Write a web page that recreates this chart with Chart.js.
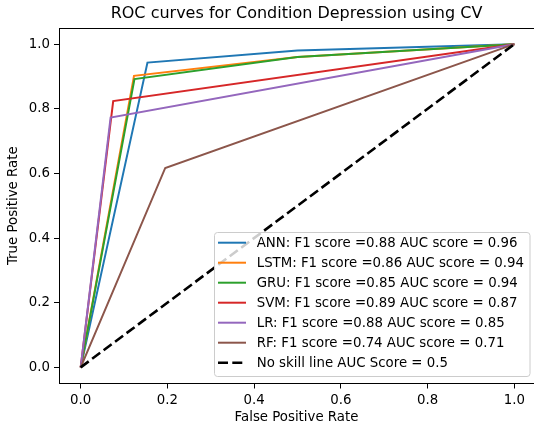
<!DOCTYPE html>
<html lang="en">
<head>
    <meta charset="UTF-8">
    <title>ROC curves for Condition Depression using CV</title>
    <script src="https://cdn.jsdelivr.net/npm/chart.js"></script>
    <style>
        html, body {
            margin: 0;
            padding: 0;
            background: #fff;
        }
        #wrap {
            width: 534px;
            height: 430px;
        }
    </style>
</head>
<body>
    <div id="wrap"><canvas id="roc"></canvas></div>

    <script>
        // chart text
        const chartTitle = 'ROC curves for Condition Depression using CV';
        const xTitle = 'False Positive Rate';
        const yTitle = 'True Positive Rate';

        // ticks
        const xTicks = [0, 0.2, 0.4, 0.6, 0.8, 1.0];
        const xTickLabels = ['0.0', '0.2', '0.4', '0.6', '0.8', '1.0'];
        const yTicks = [0, 0.2, 0.4, 0.6, 0.8, 1.0];
        const yTickLabels = ['0.0', '0.2', '0.4', '0.6', '0.8', '1.0'];

        // models and scores
        const modelNames = ['ANN', 'LSTM', 'GRU', 'SVM', 'LR', 'RF'];
        const f1Scores = [0.88, 0.86, 0.85, 0.89, 0.88, 0.74];
        const aucScores = [0.96, 0.94, 0.94, 0.87, 0.85, 0.71];
        const colors = ['#1f77b4', '#ff7f0e', '#2ca02c', '#d62728', '#9467bd', '#8c564b'];

        // curve points
        const annFpr = [0, 0.154, 0.5, 1];
        const annTpr = [0, 0.943, 0.98, 1];
        const lstmFpr = [0, 0.123, 0.5, 1];
        const lstmTpr = [0, 0.902, 0.96, 1];
        const gruFpr = [0, 0.124, 0.5, 1];
        const gruTpr = [0, 0.892, 0.96, 1];
        const svmFpr = [0, 0.075, 1];
        const svmTpr = [0, 0.824, 1];
        const lrFpr = [0, 0.069, 1];
        const lrTpr = [0, 0.773, 1];
        const rfFpr = [0, 0.195, 1];
        const rfTpr = [0, 0.617, 1];
        const noSkillFpr = [0, 1];
        const noSkillTpr = [0, 1];
        const noSkillAuc = 0.5;

        const fprs = [annFpr, lstmFpr, gruFpr, svmFpr, lrFpr, rfFpr];
        const tprs = [annTpr, lstmTpr, gruTpr, svmTpr, lrTpr, rfTpr];

        const FONT = 'DejaVu Sans';

        function toPoints(xs, ys) {
            return xs.map((x, i) => ({ x: x, y: ys[i] }));
        }

        const datasets = modelNames.map((name, i) => ({
            label: name + ': F1 score =' + f1Scores[i].toFixed(2) + ' AUC score = ' + aucScores[i].toFixed(2),
            data: toPoints(fprs[i], tprs[i]),
            borderColor: colors[i],
            backgroundColor: colors[i],
            borderWidth: 2,
            borderDash: [],
            order: 10 - i
        }));
        datasets.push({
            label: 'No skill line AUC Score = ' + noSkillAuc,
            data: toPoints(noSkillFpr, noSkillTpr),
            borderColor: '#000',
            backgroundColor: '#000',
            borderWidth: 2.6,
            borderDash: [10, 4.3],
            order: 1
        });

        // top spine + matplotlib style legend inside the axes
        const framePlugin = {
            id: 'frame',
            afterDraw(chart) {
                const c = chart.ctx;
                const a = chart.chartArea;
                c.save();
                c.strokeStyle = '#000';
                c.lineWidth = 1;
                c.beginPath();
                const ty = Math.round(a.top) + 0.5;
                c.moveTo(a.left, ty);
                c.lineTo(a.right, ty);
                c.stroke();

                // legend box
                const bx = 214.5, by = 232.5, bw = 315.5, bh = 144, r = 3;
                c.beginPath();
                c.moveTo(bx + r, by);
                c.lineTo(bx + bw - r, by);
                c.quadraticCurveTo(bx + bw, by, bx + bw, by + r);
                c.lineTo(bx + bw, by + bh - r);
                c.quadraticCurveTo(bx + bw, by + bh, bx + bw - r, by + bh);
                c.lineTo(bx + r, by + bh);
                c.quadraticCurveTo(bx, by + bh, bx, by + bh - r);
                c.lineTo(bx, by + r);
                c.quadraticCurveTo(bx, by, bx + r, by);
                c.closePath();
                c.fillStyle = 'rgba(255,255,255,0.8)';
                c.fill();
                c.strokeStyle = '#cccccc';
                c.lineWidth = 1;
                c.stroke();

                c.font = '13.33px "' + FONT + '"';
                c.textBaseline = 'middle';
                c.textAlign = 'left';
                chart.data.datasets.forEach((ds, i) => {
                    const y = 242.7 + i * 20.0;
                    c.beginPath();
                    c.strokeStyle = ds.borderColor;
                    c.lineWidth = ds.borderWidth;
                    c.setLineDash(ds.borderDash);
                    c.moveTo(218, y);
                    c.lineTo(246, y);
                    c.stroke();
                    c.setLineDash([]);
                    c.fillStyle = '#000';
                    c.fillText(ds.label, 256.7, y + 1);
                });
                c.restore();
            }
        };

        const ctx = document.getElementById('roc').getContext('2d');
        const chart = new Chart(ctx, {
            type: 'scatter',
            data: { datasets: datasets },
            options: {
                responsive: true,
                maintainAspectRatio: false,
                animation: false,
                showLine: true,
                elements: {
                    point: { radius: 0, hoverRadius: 0 },
                    line: { tension: 0 }
                },
                layout: {
                    padding: { left: 0, right: 0, top: 0, bottom: 0 }
                },
                plugins: {
                    legend: { display: false },
                    tooltip: { enabled: false },
                    title: {
                        display: true,
                        text: chartTitle,
                        fullSize: false,
                        color: '#000',
                        font: { family: FONT, size: 16, weight: 'normal', lineHeight: 1.2 },
                        padding: { top: 4, bottom: 4.8 }
                    }
                },
                scales: {
                    x: {
                        type: 'linear',
                        min: -0.05,
                        max: 1.0454, // right spine falls just off the canvas
                        afterFit(scale) { scale.height = 46.5; },
                        afterBuildTicks(scale) {
                            scale.ticks = xTicks.map(v => ({ value: v }));
                        },
                        ticks: {
                            color: '#000',
                            padding: 4,
                            maxRotation: 0,
                            font: { family: FONT, size: 13.33 },
                            callback: (v, i) => xTickLabels[i]
                        },
                        grid: {
                            drawOnChartArea: false,
                            drawTicks: true,
                            tickLength: 5,
                            color: '#000'
                        },
                        border: { display: true, color: '#000', width: 1 },
                        title: {
                            display: true,
                            text: xTitle,
                            color: '#000',
                            font: { family: FONT, size: 13.33, lineHeight: 1.2 },
                            padding: { top: 0, bottom: 4 }
                        }
                    },
                    y: {
                        type: 'linear',
                        min: -0.05,
                        max: 1.05,
                        afterFit(scale) { scale.width = 59; },
                        afterBuildTicks(scale) {
                            scale.ticks = yTicks.map(v => ({ value: v }));
                        },
                        ticks: {
                            color: '#000',
                            padding: 4,
                            font: { family: FONT, size: 13.33 },
                            callback: (v, i) => yTickLabels[i]
                        },
                        grid: {
                            drawOnChartArea: false,
                            drawTicks: true,
                            tickLength: 5,
                            color: '#000'
                        },
                        border: { display: true, color: '#000', width: 1 },
                        title: {
                            display: true,
                            text: yTitle,
                            color: '#000',
                            font: { family: FONT, size: 13.33, lineHeight: 1.2 },
                            padding: { top: 6, bottom: 0 }
                        }
                    }
                }
            },
            plugins: [framePlugin]
        });
    </script>
</body>
</html>
